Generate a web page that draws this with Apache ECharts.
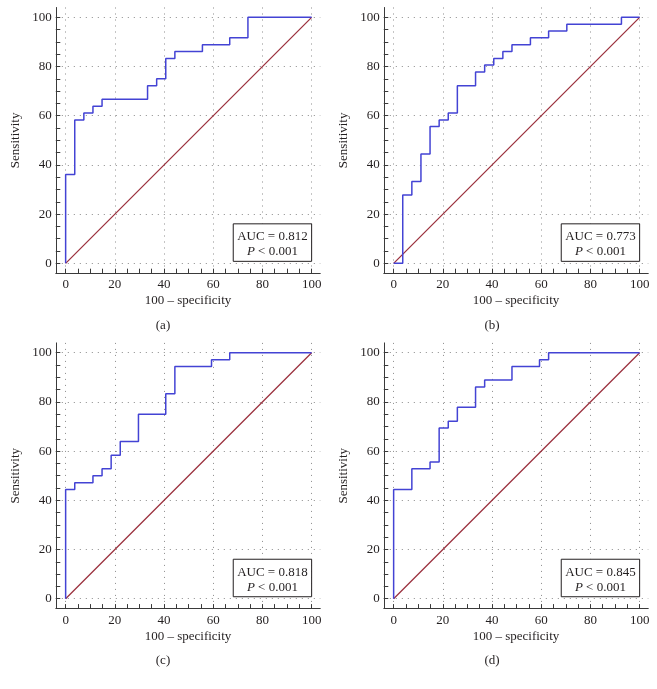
<!DOCTYPE html>
<html>
<head>
  <meta charset="UTF-8">
  <title>ROC curves</title>
  <script type="text/javascript" src="https://cdn.jsdelivr.net/npm/echarts@6/dist/echarts.min.js"></script>
  <style>
    html, body { margin: 0; padding: 0; background: #fff; }
  </style>
</head>
<body>
<div id="main" style="width:657px; height:689px;"></div>
<script>
  // ============ data ============
  // ROC operating points (100 - specificity, sensitivity), drawn as steps
  const fprA = [0, 0, 3.7, 7.4, 11.1, 14.8, 33.3, 37.0, 40.7, 44.4, 55.6, 66.7, 74.1, 100];
  const tprA = [0, 36.1, 58.3, 61.1, 63.9, 66.7, 72.2, 75.0, 83.3, 86.1, 88.9, 91.7, 100, 100];

  const fprB = [0, 3.7, 7.4, 11.1, 14.8, 18.5, 22.2, 25.9, 33.3, 37.0, 40.7, 44.4, 48.1, 55.6, 63.0, 70.4, 92.6, 100];
  const tprB = [0, 27.8, 33.3, 44.4, 55.6, 58.3, 61.1, 72.2, 77.8, 80.6, 83.3, 86.1, 88.9, 91.7, 94.4, 97.2, 100, 100];

  const fprC = [0, 0, 3.7, 11.1, 14.8, 18.5, 22.2, 29.6, 40.7, 44.4, 59.3, 66.7, 100];
  const tprC = [0, 44.4, 47.2, 50.0, 52.8, 58.3, 63.9, 75.0, 83.3, 94.4, 97.2, 100, 100];

  const fprD = [0, 0, 7.4, 14.8, 18.5, 22.2, 25.9, 33.3, 37.0, 48.1, 59.3, 63.0, 100];
  const tprD = [0, 44.4, 52.8, 55.6, 69.4, 72.2, 77.8, 86.1, 88.9, 94.4, 97.2, 100, 100];

  // reference (chance) line
  const diagX = [0, 100];
  const diagY = [0, 100];

  const aucText = ['0.812', '0.773', '0.818', '0.845'];
  const pText = ['< 0.001', '< 0.001', '< 0.001', '< 0.001'];
  const captions = ['(a)', '(b)', '(c)', '(d)'];

  const labelTicks = [0, 20, 40, 60, 80, 100];
  const minorTicks = [0, 5, 10, 15, 20, 25, 30, 35, 40, 45, 50, 55, 60, 65, 70, 75, 80, 85, 90, 95, 100];

  const xName = '100 \u2013 specificity';
  const yName = 'Sensitivity';

  // ============ layout ============
  const AX_MIN = -4, X_MAX = 103.5, Y_MAX = 104;
  const UNIT = 2.46;                 // px per percent
  const COL_LEFT = [55.8, 383.8];
  const ROW_TOP = [7.5, 342.9];
  const GW = (X_MAX - AX_MIN) * UNIT;
  const GH = (Y_MAX - AX_MIN) * UNIT;
  const FONT = 'Liberation Serif';
  const TXT = '#231f20';

  const panels = [
    {fpr: fprA, tpr: tprA},
    {fpr: fprB, tpr: tprB},
    {fpr: fprC, tpr: tprC},
    {fpr: fprD, tpr: tprD}
  ];

  let chart = echarts.init(document.getElementById('main'), null, {renderer: 'canvas'});

  let grids = [], xAxes = [], yAxes = [], series = [], graphics = [];

  panels.forEach((p, i) => {
    const left = COL_LEFT[i % 2];
    const top = ROW_TOP[Math.floor(i / 2)];
    grids.push({left: left, top: top, width: GW, height: GH});
    grids.push({left: left, top: top, width: GW, height: GH});

    // axis with line, ticks and labels
    xAxes.push({
      type: 'value', gridIndex: 2 * i, min: AX_MIN, max: X_MAX,
      name: xName, nameLocation: 'middle', nameGap: 21,
      nameTextStyle: {fontFamily: FONT, fontSize: 13, color: TXT},
      axisLine: {show: true, onZero: false, lineStyle: {color: '#3a3a3a', width: 1}},
      axisTick: {show: true, inside: true, length: 4.5, customValues: minorTicks,
        lineStyle: {color: '#3a3a3a', width: 1}},
      axisLabel: {show: true, margin: 5, customValues: labelTicks,
        fontFamily: FONT, fontSize: 13, color: TXT},
      splitLine: {show: false}
    });
    yAxes.push({
      type: 'value', gridIndex: 2 * i, min: AX_MIN, max: Y_MAX,
      name: yName, nameLocation: 'middle', nameGap: 34,
      nameTextStyle: {fontFamily: FONT, fontSize: 13, color: TXT},
      axisLine: {show: true, onZero: false, lineStyle: {color: '#3a3a3a', width: 1}},
      axisTick: {show: true, inside: true, length: 4.5, customValues: minorTicks,
        lineStyle: {color: '#3a3a3a', width: 1}},
      axisLabel: {show: true, margin: 4, customValues: labelTicks,
        fontFamily: FONT, fontSize: 13, color: TXT},
      splitLine: {show: false}
    });
    // second axis only for the dotted grid
    xAxes.push({
      type: 'value', gridIndex: 2 * i + 1, min: AX_MIN, max: X_MAX,
      axisLine: {show: false}, axisLabel: {show: false},
      axisTick: {show: false, customValues: labelTicks},
      splitLine: {show: true, lineStyle: {color: '#8a8a8a', width: 1, type: [1, 5]}}
    });
    yAxes.push({
      type: 'value', gridIndex: 2 * i + 1, min: AX_MIN, max: Y_MAX,
      axisLine: {show: false}, axisLabel: {show: false},
      axisTick: {show: false, customValues: labelTicks},
      splitLine: {show: true, lineStyle: {color: '#8a8a8a', width: 1, type: [1, 5]}}
    });

    series.push({
      type: 'line', xAxisIndex: 2 * i, yAxisIndex: 2 * i,
      data: diagX.map((x, k) => [x, diagY[k]]),
      symbol: 'none', silent: true, z: 3,
      lineStyle: {color: '#9a2f3c', width: 1.2}
    });
    series.push({
      type: 'line', xAxisIndex: 2 * i, yAxisIndex: 2 * i,
      data: p.fpr.map((x, k) => [x, p.tpr[k]]),
      step: 'end', symbol: 'none', silent: true, z: 4,
      lineStyle: {color: '#4343d4', width: 1.5}
    });

    // AUC box in the lower right corner
    const x100 = left + (100 - AX_MIN) * UNIT;
    const y0 = top + (Y_MAX - 0) * UNIT;
    const bw = 78.4, bh = 37.5;
    graphics.push({
      type: 'rect', z: 100,
      shape: {x: x100 - bw, y: y0 - 39.5, width: bw, height: bh},
      style: {fill: '#fff', stroke: '#231f20', lineWidth: 1}
    });
    graphics.push({
      type: 'text', z: 101, x: x100 - bw / 2, y: y0 - 26.5,
      style: {text: 'AUC = ' + aucText[i], fontFamily: FONT, fontSize: 13, fill: TXT,
        align: 'center', verticalAlign: 'middle'}
    });
    graphics.push({
      type: 'text', z: 101, x: x100 - bw / 2, y: y0 - 11.5,
      style: {text: '{i|P} ' + pText[i], fontFamily: FONT, fontSize: 13, fill: TXT,
        align: 'center', verticalAlign: 'middle',
        rich: {i: {fontStyle: 'italic', fontFamily: FONT, fontSize: 13, fill: TXT}}}
    });
    // panel caption
    graphics.push({
      type: 'text', x: (i % 2) * 329 + 163, y: top + 318,
      style: {text: captions[i], fontFamily: FONT, fontSize: 13, fill: TXT,
        align: 'center', verticalAlign: 'middle'}
    });
  });

  chart.setOption({
    animation: false,
    backgroundColor: '#fff',
    grid: grids,
    xAxis: xAxes,
    yAxis: yAxes,
    series: series,
    graphic: graphics
  });
</script>
</body>
</html>
